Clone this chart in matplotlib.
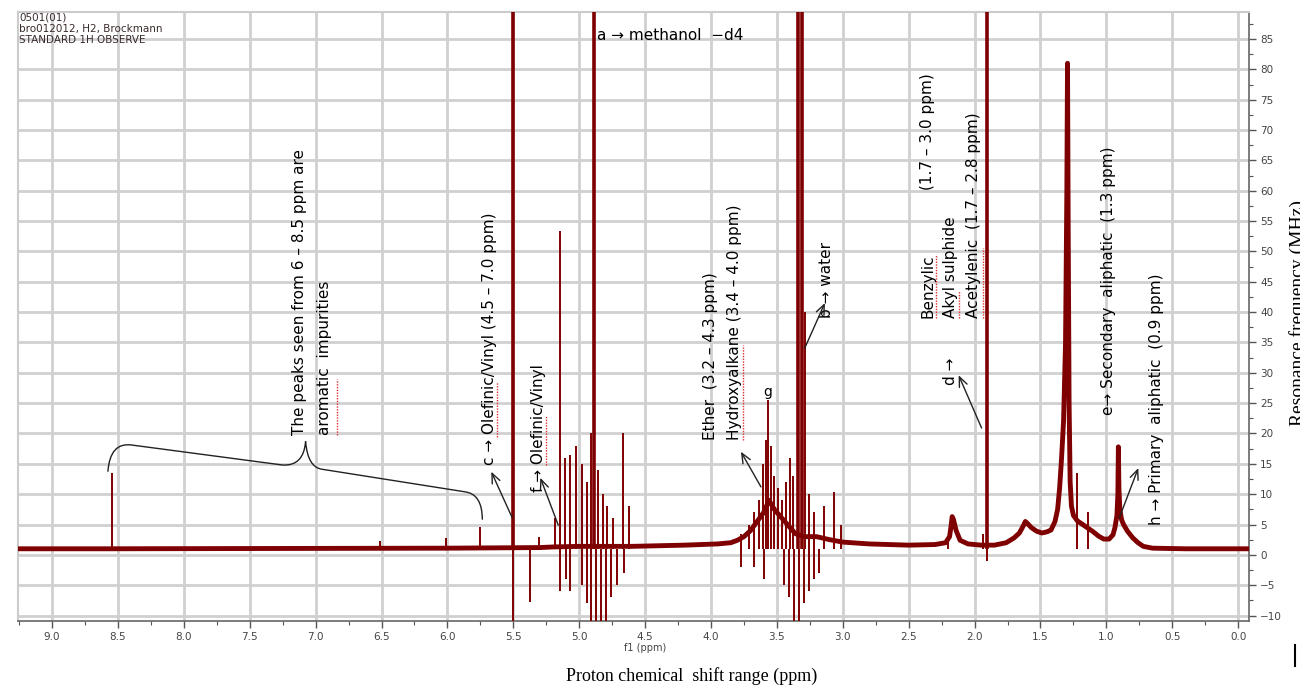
import numpy as np
import matplotlib
matplotlib.use("Agg")
import matplotlib.pyplot as plt
from matplotlib.path import Path
from matplotlib.patches import PathPatch
from matplotlib.lines import Line2D
from matplotlib.ticker import MultipleLocator, FormatStrFormatter

# ---------------- data ----------------
# smooth envelope of the spectrum (ppm, intensity)
env_ppm = [9.26, 8.60, 6.00, 5.30, 5.20, 5.00, 4.80, 4.60, 4.40, 4.20, 3.95, 3.85,
           3.80, 3.75, 3.70, 3.65, 3.60, 3.56, 3.52, 3.48, 3.44, 3.40, 3.36, 3.30,
           3.25, 3.20, 3.10, 3.00, 2.80, 2.50, 2.30, 2.22, 2.19, 2.18, 2.17, 2.16,
           2.14, 2.11, 2.05, 1.95, 1.85, 1.76, 1.70, 1.66, 1.63, 1.615, 1.60, 1.57,
           1.53, 1.49, 1.45, 1.42, 1.39, 1.37, 1.355, 1.34, 1.325, 1.31, 1.30,
           1.295, 1.29, 1.283, 1.275, 1.265, 1.25, 1.22, 1.18, 1.14, 1.10, 1.06,
           1.02, 0.98, 0.95, 0.935, 0.92, 0.913, 0.909, 0.905, 0.898, 0.885, 0.87,
           0.84, 0.80, 0.76, 0.72, 0.65, 0.40, 0.00, -0.09]
env_val = [1.0, 1.0, 1.1, 1.2, 1.3, 1.4, 1.4, 1.4, 1.5, 1.6, 1.8, 2.0,
           2.4, 3.0, 4.0, 5.5, 7.0, 9.0, 7.5, 6.5, 5.5, 4.5, 3.5, 3.0,
           3.0, 3.0, 2.5, 2.1, 1.8, 1.6, 1.7, 2.0, 3.0, 4.5, 6.3, 5.8,
           4.0, 2.4, 1.8, 1.6, 1.6, 2.0, 2.8, 3.6, 4.8, 5.5, 5.2, 4.5,
           3.9, 3.6, 3.8, 4.1, 5.5, 7.5, 11.0, 16.0, 22.0, 35.0, 60.0,
           81.0, 55.0, 25.0, 12.0, 8.0, 6.5, 5.6, 5.0, 4.4, 3.8, 3.1,
           2.6, 2.6, 3.3, 4.5, 6.5, 10.0, 17.8, 11.0, 7.5, 5.8, 5.0,
           3.9, 2.8, 2.0, 1.4, 1.1, 1.0, 1.0, 1.0]

# narrow positive lines (ppm, top intensity)
pos_ppm = [8.548, 6.51, 6.01, 5.75, 5.50, 5.303, 5.182, 5.144, 5.106, 5.068, 5.023,
           4.977, 4.939, 4.909, 4.856, 4.818, 4.788, 4.742, 4.667, 4.621,
           3.773, 3.712, 3.674, 3.636, 3.606, 3.583, 3.568, 3.545, 3.523, 3.492,
           3.462, 3.432, 3.402, 3.379, 3.288, 3.258, 3.220, 3.144, 3.068, 3.015,
           2.20, 1.94, 1.22, 1.14]
pos_top = [13.5, 2.3, 2.8, 4.6, 31.0, 3.0, 6.0, 53.4, 16.0, 16.5, 18.0,
           15.0, 12.0, 20.0, 14.0, 10.0, 8.0, 6.0, 20.0, 8.0,
           3.5, 5.0, 7.0, 9.0, 15.0, 19.0, 25.5, 18.0, 13.0, 11.0,
           9.0, 12.0, 16.0, 13.0, 40.0, 10.0, 7.0, 8.0, 10.4, 5.0,
           3.0, 3.5, 13.5, 7.0]

# negative lines (ppm, bottom intensity)
neg_ppm = [5.50, 5.37, 5.144, 5.10, 5.068, 4.977, 4.939, 4.909, 4.87, 4.833, 4.795,
           4.757, 4.712, 4.66, 3.773, 3.674, 3.598, 3.447, 3.409, 3.371, 3.333,
           3.295, 3.258, 3.220, 3.182, 1.905]
neg_bot = [-11.0, -7.7, -6.0, -4.0, -6.0, -5.0, -8.0, -11.0, -11.0, -11.0, -11.0,
           -7.0, -5.0, -3.0, -2.0, -2.0, -4.0, -5.0, -7.0, -11.0, -11.0,
           -8.0, -6.0, -4.0, -3.0, -1.0]

# very intense (clipped) solvent / main lines
big_ppm = [5.50, 4.886, 3.338, 3.312, 1.905]
big_top = [120.0, 120.0, 120.0, 120.0, 120.0]

xtick_vals = [9.0, 8.5, 8.0, 7.5, 7.0, 6.5, 6.0, 5.5, 5.0, 4.5, 4.0, 3.5, 3.0,
              2.5, 2.0, 1.5, 1.0, 0.5, 0.0]
ytick_vals = list(range(-10, 90, 5))

# ---------------- figure ----------------
RED = "#7f0000"
fig = plt.figure(figsize=(13, 6.86), dpi=100)
ax = fig.add_axes([18 / 1300, 1 - 621 / 686, (1249 - 18) / 1300, (621 - 12) / 686])
ax.set_xlim(9.258, -0.082)
ax.set_ylim(-10.9, 89.45)

ax.set_xticks(xtick_vals)
ax.set_yticks(ytick_vals)
ax.xaxis.set_minor_locator(MultipleLocator(0.25))
ax.yaxis.set_minor_locator(MultipleLocator(2.5))
ax.xaxis.set_major_formatter(FormatStrFormatter("%.1f"))
ax.grid(True, which="major", color="#d0d0d0", lw=2.0)
ax.set_axisbelow(True)
ax.yaxis.tick_right()
ax.tick_params(axis="both", which="major", length=5, width=1, color="#555555",
               labelsize=7.5, labelcolor="#444444", pad=3)
ax.tick_params(axis="both", which="minor", length=3, width=0.8, color="#555555")
for s in ["left", "top"]:
    ax.spines[s].set_color("#cccccc")
    ax.spines[s].set_linewidth(1.5)
for s in ["right", "bottom"]:
    ax.spines[s].set_color("#666666")
    ax.spines[s].set_linewidth(1.2)

# spectrum
ax.plot(env_ppm, env_val, color=RED, lw=3.5, solid_joinstyle="round", zorder=3)
ax.vlines(pos_ppm, [1.0] * len(pos_ppm), pos_top, color=RED, lw=1.4, zorder=3)
ax.vlines(neg_ppm, [1.0] * len(neg_ppm), neg_bot, color=RED, lw=1.4, zorder=3)
ax.vlines(big_ppm, [1.0] * len(big_ppm), big_top, color=RED, lw=2.6, zorder=3)

# ---------------- annotations ----------------
FS = 11
tk = dict(fontsize=FS, color="black", rotation=90, ha="center", va="bottom",
          family="DejaVu Sans", zorder=5)
ax.text(7.12, 19.8, "The peaks seen from 6 \u2013 8.5 ppm are", **tk)
ax.text(6.93, 19.8, "aromatic  impurities", **tk)
ax.text(5.682, 14.8, "c \u2192 Olefinic/Vinyl (4.5 \u2013 7.0 ppm)", **tk)
ax.text(5.311, 10.4, "f \u2192 Olefinic/Vinyl", **tk)
ax.text(4.0, 18.9, "Ether  (3.2 \u2013 4.3 ppm)", **tk)
ax.text(3.818, 18.9, "Hydroxyalkane (3.4 \u2013 4.0 ppm)", **tk)
ax.text(3.121, 39.0, "b \u2192 water", **tk)
ax.text(2.356, 39.0, "Benzylic", **tk)
ax.text(2.356, 60.1, "(1.7 \u2013 3.0 ppm)", **tk)
ax.text(2.182, 39.0, "Akyl sulphide", **tk)
ax.text(2.008, 39.0, "Acetylenic  (1.7 \u2013 2.8 ppm)", **tk)
ax.text(2.182, 28.0, "d \u2192", **tk)
ax.text(0.985, 23.1, "e\u2192 Secondary  aliphatic  (1.3 ppm)", **tk)
ax.text(0.621, 4.9, "h \u2192 Primary  aliphatic  (0.9 ppm)", **tk)
ax.text(4.864, 85.66, "a \u2192 methanol  \u2212d4", fontsize=FS, ha="left", va="center",
        zorder=5)
ax.text(3.568, 26.8, "g", fontsize=10, ha="center", va="center", zorder=5)

# spell-check squiggles beside some words (as in the source document)
for xs, y0, y1 in [(6.84, 19.8, 29.0), (5.62, 19.5, 28.5), (5.25, 14.8, 23.0),
                   (3.755, 18.9, 34.5), (2.29, 39.0, 49.5), (2.115, 39.0, 43.5),
                   (1.94, 39.0, 50.5)]:
    ax.plot([xs, xs], [y0, y1], color="#e03030", lw=1.0, ls=(0, (1, 1)), zorder=5)

arrow = dict(arrowstyle="->,head_length=0.7,head_width=0.3", color="#222222", lw=1.0,
             shrinkA=0, shrinkB=0)
for tail, head in [((5.508, 6.1), (5.667, 13.7)),
                   ((5.159, 4.9), (5.295, 12.7)),
                   ((3.621, 11.2), (3.773, 17.0)),
                   ((3.288, 34.1), (3.136, 41.5)),
                   ((1.947, 20.9), (2.121, 29.6)),
                   ((0.902, 6.1), (0.758, 14.3))]:
    ax.annotate("", xy=head, xytext=tail, arrowprops=arrow, zorder=5)

# curly brace over aromatic region
verts = [(8.576, 13.7), (8.56, 18.6), (8.396, 18.1), (7.25, 14.8),
         (7.09, 14.6), (7.076, 18.7), (7.06, 14.4), (6.95, 14.1),
         (5.871, 10.4), (5.735, 10.1), (5.735, 5.8)]
codes = [Path.MOVETO, Path.CURVE3, Path.CURVE3, Path.LINETO,
         Path.CURVE3, Path.CURVE3, Path.CURVE3, Path.CURVE3,
         Path.LINETO, Path.CURVE3, Path.CURVE3]
ax.add_patch(PathPatch(Path(verts, codes), facecolor="none", edgecolor="#222222",
                       lw=1.0, zorder=5))

# header
fig.text(19 / 1300, 1 - 12 / 686, "0501(01)\nbro012012, H2, Brockmann\nSTANDARD 1H OBSERVE",
         fontsize=7.5, color="#3a2b2b", ha="left", va="top", linespacing=1.2)

# axis texts
fig.text(645 / 1300, 1 - 648 / 686, "f1 (ppm)", fontsize=7, color="#444444",
         ha="center", va="center")
fig.text(692 / 1300, 1 - 676 / 686, "Proton chemical  shift range (ppm)",
         family="Liberation Serif", fontsize=13, ha="center", va="center")
fig.text(1298 / 1300, 1 - 313 / 686, "Resonance frequency (MHz)", rotation=90,
         family="Liberation Serif", fontsize=14, ha="center", va="center")
fig.add_artist(Line2D([1295 / 1300, 1295 / 1300], [1 - 645 / 686, 1 - 666 / 686],
                      color="black", lw=1.5))

fig.savefig("out.png", dpi=100)
